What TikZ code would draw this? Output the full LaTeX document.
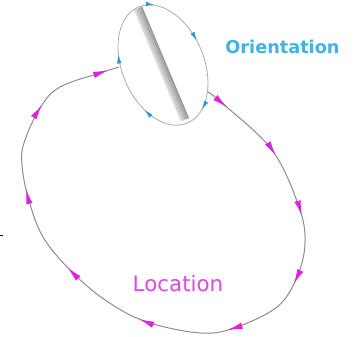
\documentclass[tikz,border=0pt]{standalone}
\usepackage{fontspec}
\setmainfont{DejaVu Sans}
\usetikzlibrary{arrows.meta,decorations.markings,calc}
\definecolor{mag}{RGB}{222,34,222}
\definecolor{magtext}{RGB}{226,70,226}
\definecolor{cyanb}{RGB}{66,178,228}
\definecolor{bluearr}{RGB}{50,150,220}
\definecolor{loopgray}{RGB}{140,140,140}
\tikzset{
  loopline/.style={loopgray, line width=1pt},
  ringline/.style={gray!65, line width=0.8pt},
  magtip/.tip={Latex[length=15pt,width=6.5pt]},
  bluetip/.tip={Latex[length=9pt,width=4.5pt]},
}
\begin{document}
\begin{tikzpicture}[x=1pt,y=1pt]
\useasboundingbox (0,0) rectangle (354,337);
% small orientation ellipse
\coordinate (ec) at (163,272);
\draw[ringline, rotate around={-67.2:(ec)}, postaction={decorate},
  decoration={markings,
    mark=at position 0.061 with {\arrowreversed[bluearr]{bluetip}},
    mark=at position 0.278 with {\arrowreversed[bluearr]{bluetip}},
    mark=at position 0.450 with {\arrowreversed[bluearr]{bluetip}},
    mark=at position 0.667 with {\arrowreversed[bluearr]{bluetip}},
    mark=at position 0.856 with {\arrowreversed[bluearr]{bluetip}}}]
  (ec) ellipse [x radius=63, y radius=41];
% rod
\coordinate (rc) at (161.5,273);
\begin{scope}[transform canvas={rotate around={-67.2:(rc)}}]
\shade[top color=gray!85, middle color=gray!60, bottom color=gray!25]
  (101,268.5) rectangle (222,277.5);
\end{scope}
% location loop
\coordinate (ls) at (208,245);
\coordinate (le) at (119,270);
\draw[loopline, postaction={decorate},
  decoration={markings,
    mark=at position 0.032 with {\arrow[mag]{magtip}},
    mark=at position 0.123 with {\arrow[mag]{magtip}},
    mark=at position 0.209 with {\arrow[mag]{magtip}},
    mark=at position 0.302 with {\arrow[mag]{magtip}},
    mark=at position 0.412 with {\arrow[mag]{magtip}},
    mark=at position 0.531 with {\arrow[mag]{magtip}},
    mark=at position 0.648 with {\arrow[mag]{magtip}},
    mark=at position 0.767 with {\arrow[mag]{magtip}},
    mark=at position 0.884 with {\arrow[mag]{magtip}},
    mark=at position 0.985 with {\arrow[mag]{magtip}}}]
  plot[smooth, tension=0.6] coordinates {(ls) (222,234) (272,187) (299,130) (305,94) (297,60) (277,30) (234,9) (200,4) (147,15) (108,35) (73,64) (43,100) (28,140) (22,172) (24,194) (40,229) (60,250) (100,264) (le)};
% labels
\node[text=cyanb, font=\bfseries\fontsize{17.7}{20}\selectfont] (ori) at (282.5,290) {Orientation};
\node[text=magtext, font=\fontsize{21.4}{24}\selectfont] (loc) at (178,53) {Location};
\draw[black, line width=0.8pt] (0,102) -- (2.5,102);
\end{tikzpicture}
\end{document}
